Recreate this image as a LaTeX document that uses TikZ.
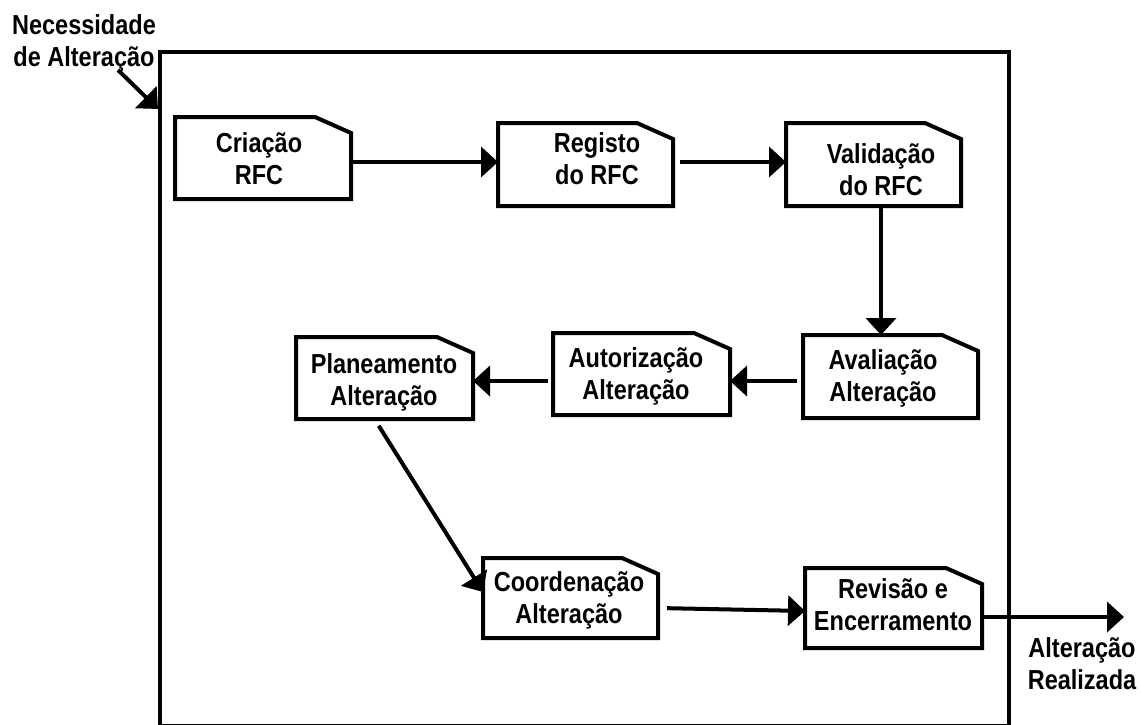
\documentclass[tikz,border=0pt]{standalone}
\usepackage{fontspec}
\setmainfont{Liberation Sans}[FakeStretch=0.855]
\usetikzlibrary{arrows.meta}
\tikzset{
  card/.style={rectangle, draw=none, inner sep=0pt, outer sep=0pt},
  cardline/.style={line width=4pt, line join=miter, black},
  txt/.style={font=\bfseries\fontsize{27.5}{32}\selectfont, align=center, inner sep=0pt},
  frameline/.style={draw, line width=4pt, rectangle, inner sep=0pt, outer sep=0pt},
  arr/.style={line width=4pt, -{Triangle[length=17pt,width=30pt]}},
}
\newcommand\cardpath[1]{\draw[cardline] (#1.north west) -- ([xshift=-36pt]#1.north east) -- ([yshift=-16pt]#1.north east) -- (#1.south east) -- (#1.south west) -- cycle;}
\begin{document}
\begin{tikzpicture}[x=1pt,y=-1pt]
\useasboundingbox (0,0) rectangle (1141,725);
% frame
\node[frameline, minimum width=849pt, minimum height=674pt] (frame) at (584.5,389) {};
% boxes
\node[card, minimum width=176pt, minimum height=82pt] (crea) at (263,158) {};
\node[card, minimum width=175pt, minimum height=83pt] (reg) at (585.5,164.5) {};
\node[card, minimum width=175pt, minimum height=83pt] (val) at (873.5,164.5) {};
\node[card, minimum width=175pt, minimum height=83pt] (ava) at (890.5,376.5) {};
\node[card, minimum width=177pt, minimum height=82pt] (aut) at (641.5,374) {};
\node[card, minimum width=177pt, minimum height=82pt] (pla) at (384.5,378) {};
\node[card, minimum width=175pt, minimum height=80pt] (coo) at (570.5,598) {};
\node[card, minimum width=177pt, minimum height=80pt] (rev) at (893.5,608) {};
\foreach \n in {crea,reg,val,ava,aut,pla,coo,rev} {\cardpath{\n}}
% texts
\node[txt] (creat) at (259,159) {Criação\\RFC};
\node[txt] (regt) at (597,159) {Registo\\do RFC};
\node[txt] (valt) at (881,170) {Validação\\do RFC};
\node[txt] (avat) at (883,378) {Avaliação\\Alteração};
\node[txt] (autt) at (636,376) {Autorização\\Alteração};
\node[txt] (plat) at (384,382) {Planeamento\\Alteração};
\node[txt] (coot) at (569,600) {Coordenação\\Alteração};
\node[txt] (revt) at (893,605) {Revisão e\\Encerramento};
\node[txt] (inlbl) at (84,43) {Necessidade\\de Alteração};
\node[txt] (outlbl) at (1082,664) {Alteração\\Realizada};
% connectors
\coordinate (inpstart) at (118,70);
\coordinate (inpend) at (158,109);
\coordinate (outend) at (1124,617);
\draw[arr] (inpstart) -- (inpend);
\draw[arr] ([yshift=-4pt]crea.east) -- ([yshift=-4pt]crea.east -| reg.west);
\draw[arr, shorten <=7pt] ([yshift=2.5pt]reg.east) -- ([yshift=2.5pt]reg.east -| val.west);
\draw[arr, shorten <=2pt] ([xshift=7.5pt]val.south) -- ([xshift=7.5pt]val.south |- ava.north);
\draw[arr, shorten <=6pt] ([yshift=-4.5pt]ava.west) -- ([yshift=-4.5pt]ava.west -| aut.east);
\draw[arr, shorten <=5pt] ([yshift=-7pt]aut.west) -- ([yshift=-7pt]aut.west -| pla.east);
\draw[arr, shorten <=8pt] ([xshift=-10pt]pla.south) -- ([yshift=6pt]coo.west);
\draw[arr, shorten <=9pt] ([yshift=-10pt]coo.east) -- ([yshift=-3pt]rev.west);
\draw[arr] ([yshift=-9pt]rev.east) -- (outend);
\end{tikzpicture}
\end{document}
